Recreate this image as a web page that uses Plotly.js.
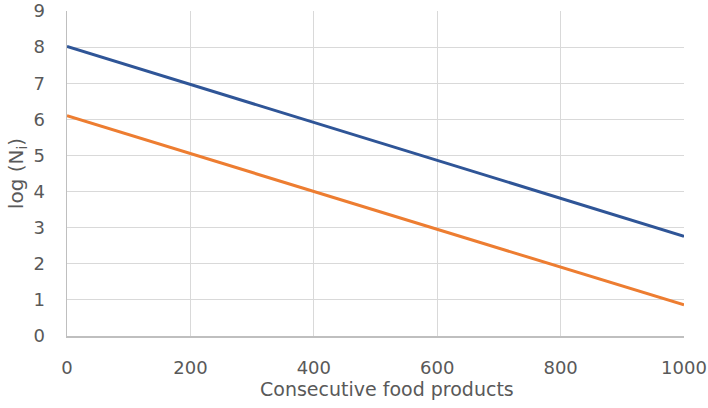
<!DOCTYPE html>
<html>
<head>
<meta charset="utf-8">
<script src="https://cdn.plot.ly/plotly-3.0.1.min.js"></script>
<style>html,body{margin:0;padding:0;background:#fff;}#chart{width:708px;height:408px;}</style>
</head>
<body>
<div id="chart"></div>
<script>
const products = [0, 200, 400, 600, 800, 1000];
const seriesA = [8.02, 6.97, 5.93, 4.88, 3.82, 2.76];
const seriesB = [6.10, 5.05, 4.01, 2.96, 1.90, 0.86];
const xTicks = [0, 200, 400, 600, 800, 1000];
const yTicks = [0, 1, 2, 3, 4, 5, 6, 7, 8, 9];

const tickFont = {family: 'DejaVu Sans, Verdana, sans-serif', size: 18, color: '#595959'};
const xTitleFont = {family: 'DejaVu Sans, Verdana, sans-serif', size: 19, color: '#595959'};
const yTitleFont = {family: 'DejaVu Sans, Verdana, sans-serif', size: 20, color: '#595959'};
const data = [
  {x: products, y: seriesA, type: 'scatter', mode: 'lines', line: {color: '#2f5597', width: 3}, hoverinfo: 'skip'},
  {x: products, y: seriesB, type: 'scatter', mode: 'lines', line: {color: '#ed7d31', width: 3}, hoverinfo: 'skip'}
];
const layout = {
  width: 708, height: 408,
  margin: {l: 67, r: 24, t: 11, b: 72},
  paper_bgcolor: '#fff', plot_bgcolor: '#fff',
  showlegend: false,
  font: tickFont,
  xaxis: {
    range: [0, 1000], tickvals: xTicks, ticktext: xTicks.map(String),
    showgrid: true, gridcolor: '#d9d9d9', gridwidth: 1,
    showline: true, linecolor: '#bfbfbf', linewidth: 1.5,
    zeroline: false, ticks: '', ticklabelstandoff: 15, tickfont: tickFont
  },
  yaxis: {
    range: [0, 9], tickvals: yTicks, ticktext: yTicks.map(String),
    showgrid: true, gridcolor: '#d9d9d9', gridwidth: 1,
    showline: true, linecolor: '#bfbfbf', linewidth: 1.5,
    zeroline: false, ticks: '', ticklabelstandoff: 17, tickfont: tickFont,
    title: {text: 'log (N<sub>i</sub>)', font: yTitleFont, standoff: 4}
  },
  annotations: [{
    text: 'Consecutive food products', font: xTitleFont,
    xref: 'paper', yref: 'paper', x: 0.518, y: 0, yshift: -66,
    xanchor: 'center', yanchor: 'bottom', showarrow: false
  }]
};
Plotly.newPlot('chart', data, layout, {staticPlot: true, displayModeBar: false});
</script>
</body>
</html>
